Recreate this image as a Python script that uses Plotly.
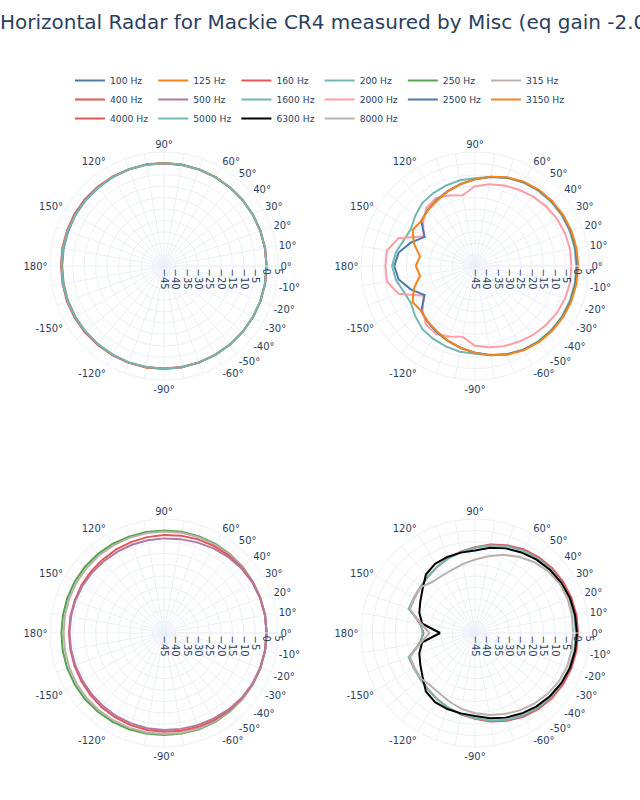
import plotly.graph_objects as go

# ---------------- data ----------------
ANGLES = [-180, -170, -160, -150, -140, -130, -120, -110, -100,
          -90, -80, -70, -60, -50, -40, -30, -20, -10,
          0, 10, 20, 30, 40, 50, 60, 70, 80,
          90, 100, 110, 120, 130, 140, 150, 160, 170, 180]

FREQ_LABELS = ["100 Hz", "125 Hz", "160 Hz", "200 Hz", "250 Hz", "315 Hz",
               "400 Hz", "500 Hz", "1600 Hz", "2000 Hz", "2500 Hz", "3150 Hz",
               "4000 Hz", "5000 Hz", "6300 Hz", "8000 Hz"]

# values in dB, angles -180 .. 180 step 10
db_100 = [-0.3, -0.3, -0.2, -0.2, -0.1, -0.1, 0.0, 0.1, 0.1,
          0.1, 0.1, 0.0, 0.0, 0.0, 0.0, 0.0, 0.0, 0.0,
          0.0, 0.0, 0.0, 0.0, 0.0, 0.0, 0.0, 0.1, 0.1,
          0.2, 0.2, 0.1, 0.0, -0.1, -0.1, -0.2, -0.3, -0.3, -0.3]
db_125 = [-0.1, -0.1, 0.0, 0.0, 0.1, 0.1, 0.1, 0.2, 0.2,
          0.2, 0.1, 0.1, 0.0, 0.0, 0.0, 0.0, 0.0, 0.0,
          0.0, 0.0, 0.0, 0.0, 0.0, 0.0, 0.1, 0.1, 0.2,
          0.2, 0.2, 0.2, 0.1, 0.1, 0.0, 0.0, 0.0, -0.1, -0.1]
db_160 = [0.2, 0.2, 0.3, 0.3, 0.3, 0.2, 0.2, 0.1, 0.1,
          0.0, 0.0, 0.0, 0.0, 0.0, 0.0, 0.0, 0.0, 0.0,
          0.0, 0.0, 0.0, 0.0, 0.0, 0.0, 0.0, 0.0, 0.0,
          0.0, 0.1, 0.1, 0.2, 0.3, 0.4, 0.4, 0.3, 0.3, 0.2]
db_200 = [0.0, 0.0, 0.0, 0.0, -0.1, -0.1, -0.1, 0.0, 0.0,
          0.1, 0.1, 0.0, 0.0, 0.0, 0.0, 0.0, 0.0, 0.0,
          0.0, 0.0, 0.0, 0.0, 0.0, 0.0, 0.0, 0.0, 0.1,
          0.1, 0.1, 0.1, 0.0, 0.0, -0.1, -0.1, 0.0, 0.0, 0.0]

db_250 = [0.0, 0.1, 0.2, 0.2, 0.2, 0.1, 0.0, -0.1, -0.2,
          -0.3, -0.2, -0.1, 0.0, 0.0, 0.0, 0.0, 0.0, 0.0,
          0.0, 0.0, 0.0, 0.0, 0.1, 0.1, 0.1, 0.1, 0.1,
          0.0, 0.0, 0.0, 0.1, 0.2, 0.2, 0.2, 0.1, 0.0, 0.0]
db_315 = [-1.0, -0.9, -0.8, -0.7, -0.7, -0.7, -0.7, -0.7, -0.7,
          -0.7, -0.5, -0.4, -0.3, -0.2, -0.1, 0.0, 0.0, 0.0,
          0.0, 0.0, 0.0, 0.0, 0.0, -0.1, -0.2, -0.3, -0.4,
          -0.5, -0.6, -0.6, -0.6, -0.6, -0.7, -0.7, -0.8, -0.9, -1.0]
db_400 = [-3.3, -3.3, -3.2, -3.0, -2.8, -2.5, -2.2, -2.0, -1.8,
          -1.7, -1.5, -1.2, -0.9, -0.6, -0.4, -0.2, -0.1, 0.0,
          0.0, 0.0, -0.1, -0.2, -0.4, -0.7, -1.0, -1.3, -1.7,
          -2.0, -2.3, -2.6, -2.8, -3.0, -3.1, -3.2, -3.3, -3.3, -3.3]
db_500 = [-3.6, -3.6, -3.6, -3.6, -3.5, -3.3, -3.0, -2.8, -2.6,
          -2.5, -2.3, -2.0, -1.6, -1.1, -0.6, -0.3, -0.1, 0.0,
          0.0, 0.0, -0.2, -0.4, -0.8, -1.4, -2.0, -2.7, -3.2,
          -3.5, -3.7, -3.8, -3.9, -3.9, -3.8, -3.7, -3.6, -3.6, -3.6]

db_1600 = [-8.6, -9.8, -11.8, -12.5, -10.8, -9.0, -8.2, -7.5, -6.8,
           -6.5, -5.2, -3.8, -2.7, -1.9, -1.3, -0.9, -0.7, -0.6,
           -0.6, -0.6, -0.7, -0.9, -1.3, -1.9, -2.7, -3.8, -5.2,
           -6.5, -6.8, -7.5, -8.2, -9.0, -10.8, -12.5, -11.8, -9.8, -8.6]
db_2000 = [-5.7, -5.8, -9.3, -19.0, -15.0, -11.5, -10.6, -12.1, -13.5,
           -10.0, -8.8, -7.6, -6.6, -5.5, -4.5, -3.6, -3.0, -2.7,
           -2.7, -2.7, -3.0, -3.5, -4.3, -5.3, -6.4, -7.4, -8.6,
           -10.0, -13.5, -12.1, -10.6, -11.8, -15.3, -19.0, -9.3, -5.8, -5.7]
db_2500 = [-9.6, -11.0, -15.0, -19.5, -14.2, -12.8, -11.5, -10.0, -8.5,
           -7.0, -5.4, -3.8, -2.5, -1.6, -1.0, -0.6, -0.3, -0.2,
           -0.2, -0.2, -0.3, -0.6, -1.0, -1.6, -2.5, -3.8, -5.4,
           -7.0, -8.5, -10.0, -11.5, -12.8, -14.2, -19.5, -15.0, -11.0, -9.6]
db_3150 = [-19.0, -20.5, -16.5, -13.4, -14.2, -13.0, -11.8, -10.2, -8.6,
           -7.0, -5.2, -3.6, -2.3, -1.4, -0.8, -0.3, 0.0, 0.2,
           0.3, 0.2, 0.0, -0.3, -0.8, -1.4, -2.3, -3.6, -5.2,
           -7.0, -8.6, -10.2, -11.8, -13.0, -14.2, -13.4, -16.5, -20.5, -19.0]

db_4000 = [-22.5, -20.5, -14.5, -14.3, -13.8, -12.8, -11.6, -10.2, -8.8,
           -7.4, -5.6, -4.0, -2.6, -1.6, -0.8, -0.3, 0.0, 0.2,
           0.2, 0.2, 0.0, -0.3, -0.8, -1.6, -2.6, -4.0, -5.6,
           -7.4, -8.8, -10.2, -11.6, -12.8, -13.8, -14.3, -14.5, -20.5, -22.5]
db_5000 = [-22.0, -21.0, -14.0, -14.0, -13.6, -12.8, -11.6, -10.3, -9.0,
           -7.6, -6.0, -4.5, -3.2, -2.2, -1.5, -1.1, -0.9, -0.8,
           -0.8, -0.8, -0.9, -1.1, -1.5, -2.2, -3.2, -4.5, -6.0,
           -7.6, -9.0, -10.3, -11.6, -12.8, -13.6, -14.0, -14.0, -21.0, -22.0]
db_6300 = [-29.7, -21.5, -19.0, -17.3, -15.0, -11.5, -10.0, -9.5, -9.2,
           -8.6, -7.0, -5.5, -4.2, -3.0, -2.0, -1.2, -0.6, -0.4,
           -0.3, -0.4, -0.6, -1.2, -2.0, -3.0, -4.2, -5.5, -7.0,
           -8.8, -9.2, -9.5, -10.0, -11.5, -15.0, -17.3, -19.0, -21.5, -29.7]
db_8000 = [-25.0, -21.0, -14.6, -14.3, -14.0, -14.8, -14.2, -12.8, -11.2,
           -9.8, -8.5, -7.2, -5.8, -4.5, -3.5, -2.5, -2.0, -2.0,
           -2.0, -1.8, -1.7, -2.0, -3.0, -4.5, -6.4, -8.5, -10.8,
           -12.8, -14.3, -15.5, -16.0, -15.8, -13.8, -14.2, -14.6, -21.0, -25.0]

SERIES = [db_100, db_125, db_160, db_200, db_250, db_315, db_400, db_500,
          db_1600, db_2000, db_2500, db_3150, db_4000, db_5000, db_6300, db_8000]
COLORS = ["#4C78A8", "#F58518", "#E45756", "#72B7B2", "#54A24B", "#BAB0AC",
          "#E45756", "#B279A2", "#72B7B2", "#FF9DA6", "#4C78A8", "#F58518",
          "#E45756", "#72B7B2", "#000000", "#BAB0AC"]
SUBPLOTS = ["polar", "polar", "polar", "polar", "polar3", "polar3", "polar3", "polar3",
            "polar2", "polar2", "polar2", "polar2", "polar4", "polar4", "polar4", "polar4"]

ANG_TICKVALS = [0, 10, 20, 30, 40, 50, 60, 70, 80, 90, 100, 110, 120, 130, 140, 150, 160, 170,
                180, 190, 200, 210, 220, 230, 240, 250, 260, 270, 280, 290, 300, 310, 320, 330, 340, 350]
ANG_TICKTEXT = ["0°", "10°", "20°", "30°", "40°", "50°", "60°", "", "", "90°", "", "", "120°", "", "",
                "150°", "", "", "180°", "", "", "-150°", "", "", "-120°", "", "", "-90°", "", "",
                "-60°", "-50°", "-40°", "-30°", "-20°", "-10°"]

TITLE = "Horizontal Radar for Mackie CR4 measured by Misc (eq gain -2.0dB)"

# ---------------- figure ----------------
fig = go.Figure()
for name, vals, color, sub in zip(FREQ_LABELS, SERIES, COLORS, SUBPLOTS):
    fig.add_trace(go.Scatterpolar(r=vals, theta=ANGLES, mode="lines", name=name,
                                  line=dict(color=color, width=2), subplot=sub))

GRID = "#EBF0F8"


def polar_style(xd, yd):
    return dict(
        domain=dict(x=xd, y=yd),
        bgcolor="white",
        radialaxis=dict(range=[-45, 5], dtick=5, tickangle=90, tickfont=dict(size=10),
                        gridcolor=GRID, linecolor=GRID, showline=True, ticks=""),
        angularaxis=dict(tickmode="array", tickvals=ANG_TICKVALS, ticktext=ANG_TICKTEXT,
                         tickfont=dict(size=10), gridcolor=GRID, linecolor=GRID,
                         direction="counterclockwise", rotation=0, ticks=""),
    )


# paper spans x 40..600 px (width 560), y 0..800 px
XL = [(50 - 40) / 560, (278 - 40) / 560]
XR = [(361 - 40) / 560, (589 - 40) / 560]
YT = [420 / 800, 648 / 800]
YB = [53 / 800, 281 / 800]

fig.update_layout(
    template="plotly_white",
    width=640, height=800,
    margin=dict(l=40, r=40, t=0, b=0),
    font=dict(family="DejaVu Sans", size=10, color="#2a3f5f"),
    title=dict(text=TITLE, x=0, xanchor="left", xref="container",
               y=1 - 22 / 800, yanchor="middle", font=dict(size=20)),
    legend=dict(orientation="h", x=0.5, xanchor="center", y=1 - 66 / 800, yanchor="top",
                font=dict(size=9.2)),
    polar=polar_style(XL, YT),
    polar2=polar_style(XR, YT),
    polar3=polar_style(XL, YB),
    polar4=polar_style(XR, YB),
)

fig.write_html("out.html", config={"displayModeBar": False},
               post_script="document.body.style.margin='0px';")
